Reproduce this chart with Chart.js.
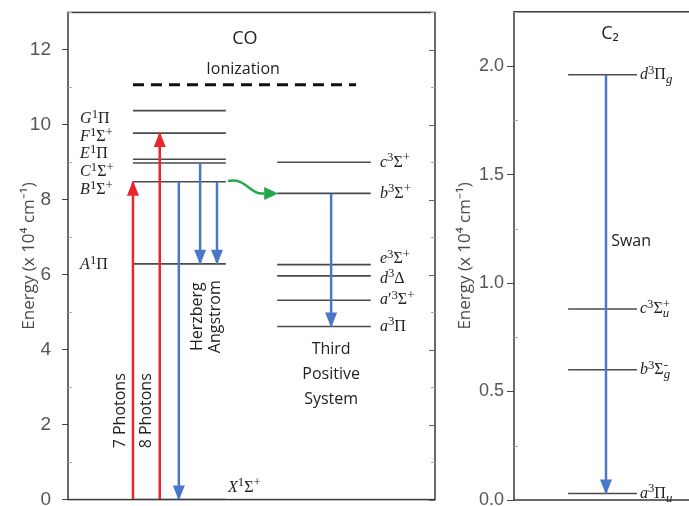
<!DOCTYPE html>
<html>
<head>
<meta charset="utf-8">
<script src="https://cdn.jsdelivr.net/npm/chart.js@4.4.1/dist/chart.umd.min.js"></script>
<style>
  html, body { margin: 0; padding: 0; background: #fff; overflow: hidden; width: 689px; height: 506px; }
  #co { position: absolute; left: 0; top: -10px; }
  #c2 { position: absolute; left: 440px; top: -2px; }
</style>
</head>
<body>
<canvas id="co" width="440" height="532"></canvas>
<canvas id="c2" width="330" height="522"></canvas>
<script>
// CO energy levels (x 10^4 cm^-1)
const singletStates = ['X^{1}Σ^{+}', 'A^{1}Π', 'B^{1}Σ^{+}', 'C^{1}Σ^{+}', 'E^{1}Π', 'F^{1}Σ^{+}', 'G^{1}Π'];
const singletEnergy = [0, 6.29, 8.48, 8.98, 9.08, 9.78, 10.38];
const tripletStates = ['a^{3}Π', 'a′^{3}Σ^{+}', 'd^{3}Δ', 'e^{3}Σ^{+}', 'b^{3}Σ^{+}', 'c^{3}Σ^{+}'];
const tripletEnergy = [4.62, 5.32, 5.97, 6.27, 8.17, 9.00];
const ionizationEnergy = 11.07;
// transitions, [from, to]
const photonLabels = ['7 Photons', '8 Photons'];
const photonPumps = [[0, 8.48], [0, 9.78]];
const coEmissions = [[8.48, 0], [8.98, 6.29], [8.48, 6.29], [8.17, 4.62]];
const coTicks = ['0', '2', '4', '6', '8', '10', '12'];

// C2 energy levels
const c2States = ['a^{3}Π_{u}', 'b^{3}Σ_{g}^{-}', 'c^{3}Σ_{u}^{+}', 'd^{3}Π_{g}'];
const c2Energy = [0.03, 0.60, 0.88, 1.96];
const swanBand = [1.96, 0.03];
const c2Ticks = ['0.0', '0.5', '1.0', '1.5', '2.0'];

const BLUE = '#4a78c8', RED = '#e8262c', GREEN = '#22a94b', LEVEL = '#4a4a4a';
const SANS = '"Open Sans", "Liberation Sans", sans-serif';

// draws labels like c^{3}Σ_{u}^{+}
function drawState(ctx, str, x, y, size) {
  const parts = [];
  let i = 0;
  while (i < str.length) {
    const c = str[i];
    if ((c === '^' || c === '_') && str[i + 1] === '{') {
      const end = str.indexOf('}', i);
      parts.push({ t: str.slice(i + 2, end), k: c === '^' ? 'sup' : 'sub' });
      i = end + 1;
    } else {
      parts.push({ t: c, k: 'base' });
      i++;
    }
  }
  ctx.fillStyle = '#222';
  ctx.textAlign = 'left';
  ctx.textBaseline = 'middle';
  let cx = x, prev = null, prevStart = x;
  parts.forEach(p => {
    const fs = p.k === 'base' ? size : size * 0.8;
    const italic = /[A-Za-z]/.test(p.t);
    ctx.font = (italic ? 'italic ' : '') + fs + 'px "Liberation Serif", "DejaVu Serif", serif';
    const dy = p.k === 'sup' ? -size * 0.28 : p.k === 'sub' ? size * 0.3 : 0;
    const stacked = p.k === 'sup' && prev && prev.k === 'sub';
    const sx = stacked ? prevStart : cx;
    ctx.fillText(p.t, sx, y + dy);
    const ex = sx + ctx.measureText(p.t).width;
    cx = stacked ? Math.max(cx, ex) : ex;
    prev = p;
    prevStart = sx;
  });
}

function arrowHead(ctx, x0, y0, x1, y1, color, w, len) {
  const ang = Math.atan2(y1 - y0, x1 - x0);
  const tx = x1 + Math.cos(ang) * 1, ty = y1 + Math.sin(ang) * 1;
  ctx.save();
  ctx.translate(tx, ty);
  ctx.rotate(ang);
  ctx.fillStyle = color;
  ctx.beginPath();
  ctx.moveTo(0, 0);
  ctx.lineTo(-len, -w / 2);
  ctx.lineTo(-len, w / 2);
  ctx.closePath();
  ctx.fill();
  ctx.restore();
}

const decor = {
  id: 'decor',
  afterDatasetsDraw(chart, args, opts) {
    const { ctx, chartArea: a, scales: { x, y } } = chart;
    ctx.save();
    // frame
    ctx.strokeStyle = '#3a3a3a';
    ctx.lineWidth = 1.5;
    ctx.strokeRect(a.left, a.top, a.right - a.left, a.bottom - a.top);
    // minor ticks inside, mirrored ticks on the right
    y.ticks.forEach(t => {
      const py = Math.round(y.getPixelForValue(t.value)) + 0.5;
      const major = t.label !== '';
      ctx.strokeStyle = major ? '#666' : '#aaa';
      ctx.lineWidth = 1;
      ctx.beginPath();
      if (!major) { ctx.moveTo(a.left, py); ctx.lineTo(a.left + 4, py); }
      ctx.moveTo(a.right, py);
      ctx.lineTo(a.right - (major ? 6 : 4), py);
      ctx.stroke();
    });
    // arrow heads
    chart.data.datasets.forEach((ds, i) => {
      if (!ds.arrow) return;
      const pts = chart.getDatasetMeta(i).data;
      const p0 = pts[pts.length - 2], p1 = pts[pts.length - 1];
      arrowHead(ctx, p0.x, p0.y, p1.x, p1.y, ds.borderColor, 12, 15);
    });
    // curved transfer arrow
    if (opts.curve) {
      const c = opts.curve;
      const x0 = x.getPixelForValue(c.from[0]), y0 = y.getPixelForValue(c.from[1]);
      const x1 = x.getPixelForValue(c.to[0]), y1 = y.getPixelForValue(c.to[1]);
      const ex = x1 - 13;
      ctx.strokeStyle = GREEN;
      ctx.lineWidth = 2.5;
      ctx.beginPath();
      ctx.moveTo(x0, y0);
      ctx.bezierCurveTo(x0 + 18, y0 - 4, x0 + 22, y1 + 2, ex, y1);
      ctx.stroke();
      arrowHead(ctx, ex - 5, y1, x1, y1, GREEN, 13, 14);
    }
    // state labels
    (opts.states || []).forEach(s => {
      drawState(ctx, s.t, x.getPixelForValue(s.x), y.getPixelForValue(s.y), 16);
    });
    // plain texts
    (opts.texts || []).forEach(s => {
      ctx.save();
      ctx.translate(x.getPixelForValue(s.x), y.getPixelForValue(s.y));
      if (s.rot) ctx.rotate(s.rot);
      ctx.font = s.size + 'px ' + SANS;
      ctx.fillStyle = '#222';
      ctx.textAlign = 'center';
      ctx.textBaseline = 'middle';
      ctx.fillText(s.t, 0, 0);
      ctx.restore();
    });
    ctx.restore();
  }
};

function levelSet(energies, x0, x1) {
  return energies.map(e => ({
    data: [{ x: x0, y: e }, { x: x1, y: e }],
    borderColor: LEVEL, borderWidth: 1.6, pointRadius: 0, showLine: true, order: 2
  }));
}
function arrowSet(pairs, xs, color) {
  return pairs.map((p, i) => ({
    data: [{ x: xs[i], y: p[0] }, { x: xs[i], y: p[1] }],
    borderColor: color, borderWidth: 2.5, pointRadius: 0, showLine: true, arrow: true, order: 1
  }));
}

function yScale(max, step, labels, font, title) {
  return {
    min: 0, max: max,
    afterFit: s => { s.width = title.width; },
    ticks: {
      stepSize: step,
      autoSkip: false,
      color: '#555',
      font: { family: '"Liberation Sans", Arial, sans-serif', size: font },
      padding: title.tickPad,
      callback: v => {
        const k = Math.round(v / (step * 2) * 1000) / 1000;
        return Number.isInteger(k) ? labels[k] : '';
      }
    },
    grid: {
      drawOnChartArea: false, drawTicks: true, tickLength: title.tickLen,
      color: c => (c.tick && c.tick.label !== '') ? '#444' : 'rgba(0,0,0,0)'
    },
    border: { display: false },
    title: {
      display: true, text: 'Energy (x 10⁴ cm⁻¹)', color: '#4a4a4a',
      font: { family: SANS, size: 17 }, padding: { top: title.pad, bottom: 0 }
    }
  };
}

// ---- CO panel ----
const coDatasets = [
  ...arrowSet(photonPumps, [17.7, 25], RED),
  ...arrowSet(coEmissions, [30.2, 36, 40.6, 71.7], BLUE),
  { data: [{ x: 17.7, y: ionizationEnergy }, { x: 78.5, y: ionizationEnergy }],
    borderColor: '#111', borderWidth: 3, borderDash: [11, 7], pointRadius: 0, showLine: true, order: 2 },
  ...levelSet(singletEnergy, 17.7, 43),
  ...levelSet(tripletEnergy, 57, 82.5)
];
const singletLabelY = [0.32, 6.27, 8.27, 8.75, 9.23, 9.68, 10.16];
const tripletLabelY = [4.62, 5.32, 5.9, 6.42, 8.17, 9.0];

new Chart(document.getElementById('co'), {
  type: 'scatter',
  data: { datasets: coDatasets },
  options: {
    responsive: false, animation: false, events: [],
    layout: { padding: { top: 12, right: 5, bottom: 20, left: 0 } },
    plugins: {
      legend: { display: false }, tooltip: { enabled: false },
      decor: {
        curve: { from: [43.6, 8.5], to: [57, 8.17] },
        states: [
          ...singletStates.map((t, i) => ({ t, x: i === 0 ? 43.6 : 3.3, y: singletLabelY[i] })),
          ...tripletStates.map((t, i) => ({ t, x: 85, y: tripletLabelY[i] }))
        ],
        texts: [
          { t: 'CO', x: 48.2, y: 12.29, size: 18 },
          { t: 'Ionization', x: 47.7, y: 11.49, size: 16 },
          { t: photonLabels[0], x: 14.2, y: 2.37, size: 16, rot: -Math.PI / 2 },
          { t: photonLabels[1], x: 21.5, y: 2.37, size: 16, rot: -Math.PI / 2 },
          { t: 'Herzberg', x: 35.4, y: 4.88, size: 16, rot: -Math.PI / 2 },
          { t: 'Angstrom', x: 40.3, y: 4.88, size: 16, rot: -Math.PI / 2 },
          { t: 'Third', x: 71.7, y: 4.0, size: 16 },
          { t: 'Positive', x: 71.7, y: 3.33, size: 16 },
          { t: 'System', x: 71.7, y: 2.67, size: 16 }
        ]
      }
    },
    scales: {
      x: { type: 'linear', min: 0, max: 100, display: false },
      y: yScale(13, 1, coTicks, 19, { width: 68, pad: 19, tickPad: 11, tickLen: 6 })
    }
  },
  plugins: [decor]
});

// ---- C2 panel ----
const c2Datasets = [
  ...arrowSet([swanBand], [37.4], BLUE),
  ...levelSet(c2Energy, 22, 50)
];

new Chart(document.getElementById('c2'), {
  type: 'scatter',
  data: { datasets: c2Datasets },
  options: {
    responsive: false, animation: false, events: [],
    layout: { padding: { top: 12, right: 10, bottom: 20, left: 0 } },
    plugins: {
      legend: { display: false }, tooltip: { enabled: false },
      decor: {
        states: c2States.map((t, i) => ({ t, x: 51.2, y: c2Energy[i] })),
        texts: [
          { t: 'C₂', x: 39, y: 2.15, size: 18 },
          { t: 'Swan', x: 47.6, y: 1.19, size: 16 }
        ]
      }
    },
    scales: {
      x: { type: 'linear', min: 0, max: 100, display: false },
      y: yScale(2.25, 0.25, c2Ticks, 18, { width: 74, pad: 15, tickPad: 3, tickLen: 7 })
    }
  },
  plugins: [decor]
});
</script>
</body>
</html>
